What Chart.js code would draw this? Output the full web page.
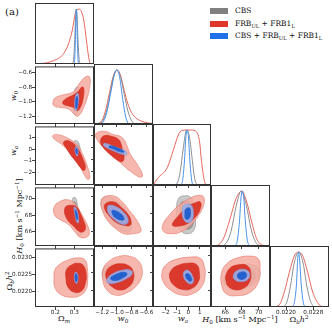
<!DOCTYPE html>
<html>
<head>
<meta charset="utf-8">
<script src="https://cdn.jsdelivr.net/npm/chart.js@4.4.1/dist/chart.umd.min.js"></script>
<style>
  body { margin: 0; background: #fff; }
  #fig { position: relative; width: 332px; height: 329px; overflow: hidden; background: #fff; }
  #fig canvas { position: absolute; }
  .t { position: absolute; font-family: "DejaVu Serif", serif; font-size: 8px; color: #111;
       white-space: nowrap; line-height: 1; transform: translate(-50%, -50%); }
  .t.r { transform: translate(-50%, -50%) rotate(-90deg); }
  .t sub { font-size: 5.6px; vertical-align: -2px; }
  .t sup { font-size: 5.6px; vertical-align: 3px; }
  .leg { position: absolute; left: 235px; font-family: "DejaVu Serif", serif; font-size: 7.5px; color: #111; white-space: nowrap; line-height: 1; }
  .leg sub { font-size: 5.2px; vertical-align: -1.5px; }
  .sw { position: absolute; left: -25px; top: 1px; width: 18px; height: 6px; }
</style>
</head>
<body>
<div id="fig">
  <div class="t" style="left:12px;top:12px;font-size:10px">(a)</div>

  <div class="leg" style="top:7px"><span class="sw" style="background:#808080"></span>CBS</div>
  <div class="leg" style="top:19.5px"><span class="sw" style="background:#e0372c"></span>FRB<sub>UL</sub> + FRB1<sub>L</sub></div>
  <div class="leg" style="top:32px"><span class="sw" style="background:#1f70e6"></span>CBS + FRB<sub>UL</sub> + FRB1<sub>L</sub></div>

  <div class="t" style="left:64px;top:320px">Ω<sub><i>m</i></sub></div>
  <div class="t" style="left:123px;top:320px"><i>w</i><sub>0</sub></div>
  <div class="t" style="left:183px;top:320px"><i>w</i><sub><i>a</i></sub></div>
  <div class="t" style="left:240px;top:320px"><i>H</i><sub>0</sub> [km s<sup>−1</sup> Mpc<sup>−1</sup>]</div>
  <div class="t" style="left:299px;top:320px">Ω<sub><i>b</i></sub><i>h</i><sup>2</sup></div>

  <div class="t r" style="left:15px;top:96px"><i>w</i><sub>0</sub></div>
  <div class="t r" style="left:15px;top:151px"><i>w</i><sub><i>a</i></sub></div>
  <div class="t r" style="left:20px;top:216px"><i>H</i><sub>0</sub> [km s<sup>−1</sup> Mpc<sup>−1</sup>]</div>
  <div class="t r" style="left:10px;top:281px">Ω<sub><i>b</i></sub><i>h</i><sup>2</sup></div>
</div>
<script>
// axis ranges and ticks
const OM_RANGE = [0.093, 0.404];
const W0_RANGE = [-1.31, -0.51];
const WA_RANGE = [-3.08, 1.98];
const H0_RANGE = [64.3, 71.35];
const OB_RANGE = [0.02153, 0.02326];
const OM_TICKS = [0.2, 0.3];
const W0_TICKS = [-1.2, -1.0, -0.8, -0.6];
const WA_TICKS = [-2, -1, 0, 1];
const H0_TICKS = [66, 68, 70];
const OB_TICKS_X = [0.0220, 0.0228];
const OB_TICKS_Y = [0.0220, 0.0225, 0.0230];

// 1D marginals: x, density pairs
const OM_RED_1D = [0.093,0.003, 0.098,0.005, 0.146,0.015, 0.173,0.04, 0.215,0.10, 0.243,0.185, 0.270,0.37, 0.290,0.62, 0.306,0.93, 0.316,0.99, 0.327,1.0, 0.338,0.95, 0.350,0.80, 0.364,0.43, 0.376,0.12, 0.385,0.01, 0.396,0.002, 0.404,0];
const OM_GRAY_1D = [0.290,0, 0.296,0.08, 0.302,0.4, 0.307,0.85, 0.311,1, 0.315,0.85, 0.320,0.4, 0.326,0.08, 0.332,0];
const OM_BLUE_1D = [0.298,0, 0.302,0.08, 0.306,0.45, 0.309,0.9, 0.311,1, 0.313,0.9, 0.316,0.45, 0.320,0.08, 0.324,0];

const W0_RED_1D = [-1.31,0, -1.26,0.01, -1.2,0.07, -1.15,0.27, -1.1,0.58, -1.05,0.88, -1.0,1.0, -0.95,0.9, -0.9,0.62, -0.85,0.37, -0.8,0.21, -0.74,0.11, -0.66,0.05, -0.58,0.02, -0.51,0.01];
const W0_GRAY_1D = [-1.25,0, -1.2,0.04, -1.15,0.2, -1.1,0.5, -1.05,0.85, -1.0,1.0, -0.95,0.88, -0.9,0.55, -0.85,0.24, -0.8,0.06, -0.75,0];
const W0_BLUE_1D = [-1.23,0, -1.18,0.05, -1.13,0.25, -1.08,0.6, -1.03,0.93, -1.0,1.0, -0.96,0.85, -0.92,0.45, -0.88,0.13, -0.85,0.02, -0.83,0];

const WA_RED_1D = [-3.08,0, -2.99,0.02, -2.68,0.12, -1.83,0.32, -1.30,0.64, -0.87,0.91, -0.58,0.99, -0.15,1.0, 0.28,1.0, 0.71,0.97, 1.0,0.76, 1.14,0.45, 1.42,0.06, 1.57,0, 1.98,0];
const WA_GRAY_1D = [-1.15,0, -0.9,0.06, -0.7,0.25, -0.45,0.65, -0.15,1.0, 0.1,0.88, 0.35,0.45, 0.55,0.12, 0.75,0];
const WA_BLUE_1D = [-0.65,0, -0.5,0.08, -0.35,0.4, -0.2,0.9, -0.1,1, 0.0,0.9, 0.15,0.4, 0.3,0.08, 0.4,0];

const H0_RED_1D = [64.3,0, 64.98,0.01, 65.77,0.13, 66.57,0.49, 67.29,0.86, 67.97,1.0, 68.57,0.80, 69.16,0.44, 69.76,0.13, 70.55,0.01, 71.35,0];
const H0_GRAY_1D = [65.7,0, 66.2,0.07, 66.7,0.27, 67.3,0.72, 67.9,1, 68.5,0.75, 69.1,0.3, 69.6,0.08, 70.1,0];
const H0_BLUE_1D = [67.2,0, 67.45,0.1, 67.7,0.45, 67.9,0.9, 68.05,1, 68.2,0.9, 68.4,0.45, 68.65,0.1, 68.9,0];

const OB_RED_1D = [0.02153,0, 0.02165,0.005, 0.021803,0.04, 0.021949,0.27, 0.022096,0.63, 0.022242,0.93, 0.02236,1, 0.022489,0.93, 0.022635,0.63, 0.022782,0.27, 0.022975,0.04, 0.0231,0.005, 0.02326,0];
const OB_GRAY_1D = [0.02194,0, 0.02203,0.1, 0.02213,0.38, 0.02224,0.8, 0.02237,1, 0.0225,0.8, 0.02261,0.38, 0.02272,0.1, 0.02282,0];
const OB_BLUE_1D = [0.02219,0, 0.02225,0.1, 0.02231,0.45, 0.02234,0.85, 0.02237,1, 0.0224,0.85, 0.02244,0.45, 0.0225,0.1, 0.02255,0];

// 2D contours: [2-sigma outline, 1-sigma outline] as x,y pairs
const W0_OM_RED = [
  [0.187,-1.015, 0.199,-0.949, 0.243,-0.904, 0.279,-0.883, 0.306,-0.838, 0.332,-0.728, 0.364,-0.649, 0.382,-0.662, 0.380,-0.817, 0.368,-0.949, 0.350,-1.081, 0.332,-1.168, 0.315,-1.204, 0.297,-1.168, 0.270,-1.102, 0.226,-1.081, 0.194,-1.059],
  [0.240,-1.002, 0.262,-0.949, 0.297,-0.904, 0.323,-0.851, 0.341,-0.794, 0.350,-0.817, 0.347,-0.949, 0.332,-1.081, 0.315,-1.125, 0.297,-1.081, 0.270,-1.059, 0.243,-1.036]];
const W0_OM_GRAY = [
  [0.315,-0.794, 0.327,-0.838, 0.325,-0.993, 0.320,-1.125, 0.309,-1.191, 0.297,-1.147, 0.295,-0.993, 0.302,-0.838],
  [0.312,-0.86, 0.321,-0.9, 0.320,-1.02, 0.316,-1.11, 0.308,-1.13, 0.301,-1.07, 0.301,-0.95]];
const W0_OM_BLUE = [
  [0.315,-0.883, 0.323,-0.904, 0.320,-1.036, 0.311,-1.125, 0.304,-1.102, 0.304,-0.949],
  [0.314,-0.926, 0.318,-0.965, 0.315,-1.071, 0.310,-1.098, 0.307,-1.045, 0.309,-0.952]];

const WA_OM_RED = [
  [0.187,1.17, 0.208,1.28, 0.262,1.0, 0.315,0.39, 0.341,-0.31, 0.368,-1.42, 0.382,-2.39, 0.371,-2.61, 0.350,-2.11, 0.323,-1.27, 0.297,-0.72, 0.262,-0.02, 0.226,0.53, 0.194,0.89],
  [0.252,0.73, 0.279,0.67, 0.315,0.17, 0.332,-0.31, 0.350,-1.0, 0.359,-1.56, 0.350,-1.83, 0.332,-1.56, 0.306,-1.0, 0.279,-0.44, 0.258,0.11, 0.243,0.53]];
const WA_OM_GRAY = [
  [0.297,0.67, 0.315,0.73, 0.329,0.25, 0.332,-0.58, 0.325,-1.0, 0.311,-0.86, 0.300,-0.31, 0.293,0.25],
  [0.305,0.4, 0.318,0.35, 0.325,-0.1, 0.326,-0.55, 0.318,-0.7, 0.309,-0.45, 0.302,0.0]];
const WA_OM_BLUE = [
  [0.309,0.25, 0.320,-0.02, 0.316,-0.58, 0.309,-0.44, 0.304,-0.02],
  [0.310,0.1, 0.316,-0.1, 0.315,-0.4, 0.311,-0.35, 0.308,-0.1]];

const WA_W0_RED = [
  [-1.266,1.28, -1.153,1.36, -1.039,1.08, -0.971,1.0, -0.902,0.67, -0.856,0.06, -0.811,-0.58, -0.719,-1.42, -0.651,-2.25, -0.683,-2.44, -0.811,-1.97, -0.947,-1.27, -1.084,-0.58, -1.198,0.11, -1.266,0.67, -1.289,1.0],
  [-1.176,1.0, -1.061,0.94, -0.984,0.73, -0.947,0.39, -0.924,-0.17, -0.902,-0.72, -0.924,-1.14, -0.993,-1.0, -1.084,-0.58, -1.176,-0.02, -1.221,0.53]];
const WA_W0_GRAY = [
  [-1.221,0.73, -1.108,0.53, -0.971,0.06, -0.856,-0.31, -0.848,-0.58, -0.902,-0.67, -1.016,-0.31, -1.153,0.11, -1.231,0.44],
  [-1.17,0.45, -1.05,0.28, -0.93,-0.12, -0.88,-0.4, -0.93,-0.48, -1.05,-0.15, -1.16,0.2]];
const WA_W0_BLUE = [
  [-1.166,0.39, -1.039,0.11, -0.902,-0.22, -0.865,-0.44, -0.902,-0.56, -1.039,-0.27, -1.166,0.11, -1.184,0.25],
  [-1.084,0.17, -0.971,-0.06, -0.902,-0.33, -0.957,-0.33, -1.061,-0.06, -1.108,0.06]];

const H0_OM_RED = [
  [0.194,69.0, 0.226,69.67, 0.270,69.85, 0.306,69.33, 0.341,68.03, 0.368,66.88, 0.380,65.92, 0.368,65.42, 0.332,65.34, 0.306,65.92, 0.270,66.88, 0.226,67.45, 0.196,68.03],
  [0.258,69.07, 0.288,69.19, 0.315,68.92, 0.332,68.23, 0.350,67.27, 0.359,66.5, 0.347,66.0, 0.323,66.11, 0.297,66.69, 0.270,67.27, 0.252,68.03, 0.249,68.69]];
const H0_OM_GRAY = [
  [0.293,70.08, 0.307,70.08, 0.318,69.0, 0.332,67.07, 0.336,65.72, 0.325,65.54, 0.315,66.3, 0.300,67.85, 0.291,69.38],
  [0.298,69.6, 0.309,69.4, 0.322,67.9, 0.327,66.6, 0.320,66.3, 0.311,67.2, 0.300,68.6]];
const H0_OM_BLUE = [
  [0.300,69.0, 0.315,68.61, 0.323,67.45, 0.320,67.07, 0.311,67.27, 0.302,68.23],
  [0.305,68.65, 0.313,68.35, 0.318,67.65, 0.316,67.45, 0.311,67.6, 0.306,68.25]];

const H0_W0_RED = [
  [-1.176,69.96, -1.039,70.08, -0.924,69.38, -0.834,68.43, -0.742,67.45, -0.674,66.3, -0.683,65.92, -0.787,65.72, -0.902,65.72, -1.016,66.3, -1.129,67.27, -1.198,68.43, -1.212,69.38],
  [-1.153,69.19, -1.039,69.38, -0.947,68.81, -0.856,68.03, -0.811,67.27, -0.820,66.69, -0.902,66.69, -1.016,67.07, -1.108,67.85, -1.166,68.61]];
const H0_W0_GRAY = [
  [-1.153,69.96, -1.016,69.58, -0.879,68.43, -0.811,67.27, -0.811,66.11, -0.879,65.92, -1.016,66.5, -1.129,67.45, -1.198,68.61, -1.212,69.58],
  [-1.12,69.4, -0.96,68.9, -0.86,67.8, -0.86,66.9, -0.95,66.8, -1.1,67.7, -1.16,68.8]];
const H0_W0_BLUE = [
  [-1.108,69.0, -1.002,68.81, -0.902,68.15, -0.848,67.38, -0.865,66.88, -0.947,66.88, -1.039,67.38, -1.108,68.03, -1.129,68.61],
  [-1.061,68.43, -0.947,68.03, -0.902,67.45, -0.924,67.27, -1.016,67.54, -1.061,68.03]];

const H0_WA_RED = [
  [-2.245,66.69, -1.677,67.85, -0.816,69.0, 0.192,69.85, 0.906,70.16, 1.337,69.96, 1.337,69.0, 0.906,67.85, 0.192,66.69, -0.669,65.92, -1.53,65.72, -2.159,65.99],
  [-1.384,66.88, -0.816,67.85, -0.092,68.81, 0.622,69.3, 1.05,69.38, 1.05,68.61, 0.622,67.65, -0.092,66.88, -0.816,66.61, -1.298,66.61]];
const H0_WA_GRAY = [
  [-0.523,70.08, 0.192,69.96, 0.476,69.0, 0.622,67.45, 0.476,66.11, -0.092,65.72, -0.669,66.11, -0.953,67.45, -1.014,69.0, -0.816,69.85],
  [-0.5,69.4, 0.25,69.2, 0.45,67.6, 0.3,66.5, -0.2,66.3, -0.6,67.4, -0.75,68.8]];
const H0_WA_BLUE = [
  [-0.385,69.0, 0.192,69.07, 0.424,68.43, 0.338,67.27, -0.041,66.99, -0.437,67.45, -0.523,68.43],
  [-0.239,68.54, 0.106,68.69, 0.192,68.03, 0.045,67.45, -0.239,67.45, -0.299,68.03]];

const OB_OM_RED = [
  [0.198,0.022631, 0.224,0.022794, 0.268,0.022917, 0.322,0.022983, 0.357,0.022917, 0.369,0.022679, 0.371,0.022345, 0.363,0.022059, 0.331,0.021867, 0.277,0.021821, 0.224,0.021916, 0.198,0.022107, 0.193,0.022393],
  [0.259,0.022631, 0.286,0.022774, 0.322,0.022822, 0.348,0.022754, 0.363,0.022488, 0.357,0.022202, 0.339,0.022010, 0.304,0.021964, 0.268,0.022107, 0.256,0.022393]];
const OB_OM_GRAY = [
  [0.304,0.022725, 0.318,0.022679, 0.323,0.022393, 0.320,0.022059, 0.309,0.021916, 0.299,0.022010, 0.295,0.022393, 0.297,0.022631],
  [0.306,0.02262, 0.316,0.02258, 0.319,0.02238, 0.316,0.02214, 0.308,0.02205, 0.301,0.02216, 0.300,0.02242]];
const OB_OM_BLUE = [
  [0.307,0.022565, 0.318,0.022488, 0.320,0.022345, 0.313,0.022222, 0.304,0.022279, 0.300,0.022439],
  [0.308,0.02252, 0.315,0.02246, 0.316,0.02236, 0.312,0.02227, 0.306,0.02231, 0.304,0.02242]];

const OB_W0_RED = [
  [-1.18,0.022631, -1.112,0.022822, -0.975,0.022965, -0.815,0.022965, -0.701,0.022822, -0.656,0.022582, -0.670,0.022345, -0.746,0.022107, -0.883,0.021916, -1.02,0.021867, -1.135,0.022010, -1.19,0.022296],
  [-1.143,0.022536, -1.066,0.022697, -0.952,0.022754, -0.838,0.022697, -0.779,0.022536, -0.779,0.022296, -0.838,0.022107, -0.952,0.022010, -1.066,0.022107, -1.135,0.022296]];
const OB_W0_GRAY = [
  [-1.18,0.022631, -1.088,0.022725, -0.952,0.022754, -0.838,0.022679, -0.770,0.022488, -0.770,0.022250, -0.838,0.022107, -0.975,0.022059, -1.112,0.022153, -1.19,0.022345],
  [-1.1,0.02262, -0.97,0.02268, -0.85,0.02258, -0.82,0.02236, -0.9,0.02218, -1.05,0.02216, -1.13,0.02236]];
const OB_W0_BLUE = [
  [-1.135,0.022316, -1.043,0.022488, -0.906,0.022582, -0.807,0.022565, -0.793,0.022468, -0.861,0.022345, -0.998,0.022222, -1.112,0.022202],
  [-1.088,0.022345, -0.998,0.022468, -0.906,0.022516, -0.861,0.022468, -0.906,0.022373, -1.02,0.022279]];

const OB_WA_RED = [
  [-2.279,0.022536, -1.849,0.022754, -0.988,0.022888, 0.166,0.022945, 1.027,0.022917, 1.371,0.022725, 1.457,0.022393, 1.165,0.022107, 0.45,0.021916, -0.557,0.021867, -1.556,0.022010, -2.193,0.022250],
  [-1.556,0.022536, -0.988,0.022697, 0.016,0.022774, 0.734,0.022725, 0.967,0.022488, 0.881,0.022250, 0.304,0.022059, -0.557,0.022030, -1.272,0.022153, -1.616,0.022345]];
const OB_WA_GRAY = [
  [-0.695,0.022697, 0.166,0.022725, 0.682,0.022582, 0.794,0.022296, 0.45,0.022059, -0.265,0.022010, -0.841,0.022153, -1.04,0.022439],
  [-0.5,0.02264, 0.3,0.02264, 0.6,0.0225, 0.55,0.02222, 0.1,0.02212, -0.5,0.02218, -0.8,0.0224]];
const OB_WA_BLUE = [
  [-0.351,0.022536, 0.02,0.022565, 0.39,0.022393, 0.45,0.022250, 0.218,0.022182, -0.178,0.022250, -0.411,0.022393],
  [-0.213,0.022468, 0.045,0.022468, 0.278,0.022345, 0.252,0.022268, 0.02,0.022279, -0.213,0.022373]];

const OB_H0_RED = [
  [65.58,0.022516, 66.18,0.022754, 67.37,0.022917, 68.96,0.022974, 69.95,0.022897, 70.16,0.022611, 69.95,0.022230, 68.96,0.021944, 67.37,0.021850, 66.18,0.021896, 65.58,0.022136],
  [66.09,0.022422, 66.57,0.022631, 67.56,0.022725, 68.57,0.022708, 69.04,0.022516, 68.88,0.022230, 68.16,0.022059, 67.17,0.022022, 66.37,0.022116, 66.09,0.022279]];
const OB_H0_GRAY = [
  [65.85,0.022325, 66.57,0.022594, 67.97,0.022725, 69.35,0.022725, 70.07,0.022594, 69.95,0.022325, 68.96,0.022116, 67.37,0.022022, 66.25,0.022087],
  [66.6,0.02243, 67.4,0.02263, 68.8,0.02264, 69.6,0.0225, 69.3,0.02227, 68.0,0.02216, 66.9,0.02222]];
const OB_H0_BLUE = [
  [66.96,0.022422, 67.44,0.022565, 68.36,0.022594, 68.88,0.022496, 68.76,0.022325, 67.97,0.022250, 67.17,0.022296],
  [67.44,0.022439, 67.85,0.022516, 68.36,0.022516, 68.57,0.022422, 68.24,0.022325, 67.68,0.022325]];

// layout of the grid (panel edges in px)
const COL_X = [35, 94, 153, 211, 270, 329];
const ROW_Y = [3, 64, 124, 185, 246, 307];

// fill, outline; gray sits underneath, red and blue are laid over it slightly see-through
const GRAY2 = ['#c9c9c9', '#9a9a9a'], GRAY1 = ['#9d9d9d', '#8a8a8a'];
const RED2 = ['rgba(243,170,160,0.85)', 'rgba(232,120,105,0.85)'], RED1 = ['rgba(214,38,24,0.85)', 'rgba(210,40,28,0.85)'];
const BLUE2 = ['rgba(150,178,238,0.88)', 'rgba(130,160,230,0.9)'], BLUE1 = ['rgba(18,88,205,0.88)', 'rgba(30,95,208,0.9)'];

const fmt1 = v => v.toFixed(1).replace('-', '\u2212');
const fmt0 = v => String(v).replace('-', '\u2212');
const fmt4 = v => v.toFixed(4);

const RANGES = [OM_RANGE, W0_RANGE, WA_RANGE, H0_RANGE, OB_RANGE];
const XTICKS = [OM_TICKS, W0_TICKS, WA_TICKS, H0_TICKS, OB_TICKS_X];
const YTICKS = [OM_TICKS, W0_TICKS, WA_TICKS, H0_TICKS, OB_TICKS_Y];
const FMTS = [fmt1, fmt1, fmt0, fmt0, fmt4];

function pts(flat) {
  const out = [];
  for (let i = 0; i < flat.length; i += 2) out.push({x: flat[i], y: flat[i + 1]});
  return out;
}

// closed smooth outline: wrap one point on each side, hide the wrapped pieces
function contour(flat, style, order) {
  const p = pts(flat);
  const data = [p[p.length - 1], ...p, p[0], p[1]];
  const n = data.length;
  const hide = c => c.p0DataIndex === 0 || c.p1DataIndex === n - 1;
  return {
    data, order, fill: 'shape', tension: 0.45,
    backgroundColor: style[0], borderColor: style[1], borderWidth: 0.7, pointRadius: 0,
    segment: {
      borderColor: c => hide(c) ? 'rgba(0,0,0,0)' : undefined,
      backgroundColor: c => hide(c) ? 'rgba(0,0,0,0)' : undefined
    }
  };
}

function dens(flat, color, order) {
  return {data: pts(flat), order, borderColor: color, borderWidth: 1, fill: false, pointRadius: 0, cubicInterpolationMode: 'monotone'};
}

function set2d(red, gray, blue) {
  return [contour(gray[0], GRAY2, 6), contour(gray[1], GRAY1, 5),
          contour(red[0], RED2, 4), contour(red[1], RED1, 3),
          contour(blue[0], BLUE2, 2), contour(blue[1], BLUE1, 1)];
}
function set1d(red, gray, blue) {
  return [dens(red, '#e5675b', 3), dens(gray, '#8e8e8e', 2), dens(blue, '#4791e8', 1)];
}

function axis(range, ticks, labels, size, fmt, isX) {
  return {
    type: 'linear', min: range[0], max: range[1],
    afterBuildTicks: s => { s.ticks = ticks.map(v => ({value: v})); },
    afterFit: s => { if (isX) s.height = size; else s.width = size; },
    grid: {drawOnChartArea: false, drawTicks: true, tickLength: 3, color: '#444', lineWidth: 1},
    border: {display: false},
    ticks: {display: labels, padding: isX ? -1 : 0, autoSkip: false, maxRotation: 0, minRotation: 0,
             color: '#222', font: {family: 'DejaVu Sans', size: 5.7}, callback: v => fmt(v)}
  };
}

const frame = {
  id: 'frame',
  afterDraw(chart) {
    const {ctx, chartArea: a} = chart;
    ctx.save();
    ctx.strokeStyle = '#333';
    ctx.lineWidth = 1;
    ctx.strokeRect(a.left + 0.5, a.top + 0.5, a.right - a.left - 1, a.bottom - a.top - 1);
    ctx.restore();
  }
};

const fig = document.getElementById('fig');

function panel(col, row, datasets) {
  const is1D = col === row;
  const x0 = COL_X[col], x1 = COL_X[col + 1], y0 = ROW_Y[row], y1 = ROW_Y[row + 1];
  const L = (col === 0 && !is1D) ? 35 : 4;
  const B = row === 4 ? 22 : 4;
  const W = x1 - x0 + L + 1, H = y1 - y0 + B + 1;
  const cv = document.createElement('canvas');
  cv.width = W; cv.height = H;
  cv.style.left = (x0 - L) + 'px';
  cv.style.top = (y0 - 1) + 'px';
  cv.style.width = W + 'px';
  cv.style.height = H + 'px';
  fig.appendChild(cv);

  const yScale = is1D
    ? {type: 'linear', min: 0, max: 1.11, afterFit: s => { s.width = L; },
       grid: {display: false}, border: {display: false}, ticks: {display: false}}
    : axis(RANGES[row], YTICKS[row], col === 0, L, FMTS[row], false);

  new Chart(cv, {
    type: 'line',
    data: {datasets},
    options: {
      responsive: false, animation: false, devicePixelRatio: 1,
      layout: {padding: {top: 1, right: 1, left: 0, bottom: 0}, autoPadding: false},
      plugins: {legend: {display: false}, tooltip: {enabled: false}},
      scales: {
        x: axis(RANGES[col], XTICKS[col], row === 4, B, FMTS[col], true),
        y: yScale
      }
    },
    plugins: [frame]
  });
}

// diagonal
panel(0, 0, set1d(OM_RED_1D, OM_GRAY_1D, OM_BLUE_1D));
panel(1, 1, set1d(W0_RED_1D, W0_GRAY_1D, W0_BLUE_1D));
panel(2, 2, set1d(WA_RED_1D, WA_GRAY_1D, WA_BLUE_1D));
panel(3, 3, set1d(H0_RED_1D, H0_GRAY_1D, H0_BLUE_1D));
panel(4, 4, set1d(OB_RED_1D, OB_GRAY_1D, OB_BLUE_1D));

// lower triangle
panel(0, 1, set2d(W0_OM_RED, W0_OM_GRAY, W0_OM_BLUE));
panel(0, 2, set2d(WA_OM_RED, WA_OM_GRAY, WA_OM_BLUE));
panel(1, 2, set2d(WA_W0_RED, WA_W0_GRAY, WA_W0_BLUE));
panel(0, 3, set2d(H0_OM_RED, H0_OM_GRAY, H0_OM_BLUE));
panel(1, 3, set2d(H0_W0_RED, H0_W0_GRAY, H0_W0_BLUE));
panel(2, 3, set2d(H0_WA_RED, H0_WA_GRAY, H0_WA_BLUE));
panel(0, 4, set2d(OB_OM_RED, OB_OM_GRAY, OB_OM_BLUE));
panel(1, 4, set2d(OB_W0_RED, OB_W0_GRAY, OB_W0_BLUE));
panel(2, 4, set2d(OB_WA_RED, OB_WA_GRAY, OB_WA_BLUE));
panel(3, 4, set2d(OB_H0_RED, OB_H0_GRAY, OB_H0_BLUE));
</script>
</body>
</html>
